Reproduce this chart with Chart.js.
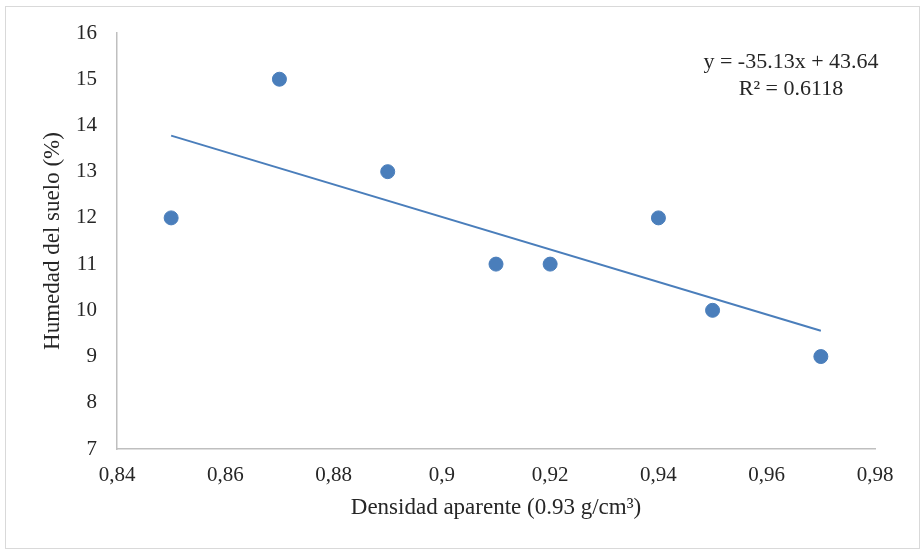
<!DOCTYPE html>
<html>
<head>
<meta charset="utf-8">
<script src="https://cdn.jsdelivr.net/npm/chart.js@4/dist/chart.umd.min.js"></script>
<style>
  body { margin: 0; background: #fff; }
  #frame { position: absolute; left: 5px; top: 6px; width: 913px; height: 541px; border: 1px solid #d9d9d9; }
  #chart { position: absolute; left: 0; top: 0; }
</style>
</head>
<body>
<div id="frame"></div>
<canvas id="chart" width="923" height="555"></canvas>
<script>
// soil data
const densidad = [0.85, 0.87, 0.89, 0.91, 0.92, 0.94, 0.95, 0.97];
const humedad = [12, 15, 13, 11, 11, 12, 10, 9];

// linear trend line ends
const trendX = [0.85, 0.97];
const trendY = [13.78, 9.56];

const ecuacion = ['y = -35.13x + 43.64', 'R² = 0.6118'];

const xTitle = 'Densidad aparente (0.93 g/cm³)';
const yTitle = 'Humedad del suelo (%)';

const blue = '#4a7ebb';
const textColor = '#262626';
const serif = "'Liberation Serif', 'Times New Roman', serif";

// draws the equation label in the top right
const equationLabel = {
    id: 'equationLabel',
    afterDatasetsDraw(chart) {
        const ctx = chart.ctx;
        ctx.save();
        ctx.font = '22px ' + serif;
        ctx.fillStyle = textColor;
        ctx.textAlign = 'center';
        ctx.textBaseline = 'alphabetic';
        ctx.fillText(ecuacion[0], 791, 68);
        ctx.fillText(ecuacion[1], 791, 95);
        ctx.restore();
    }
};

new Chart(document.getElementById('chart').getContext('2d'), {
    type: 'scatter',
    data: {
        datasets: [
            {
                label: 'Humedad',
                data: densidad.map((x, i) => ({ x: x, y: humedad[i] })),
                backgroundColor: blue,
                borderColor: blue,
                pointRadius: 7,
                pointHoverRadius: 7
            },
            {
                label: 'Tendencia',
                type: 'line',
                data: trendX.map((x, i) => ({ x: x, y: trendY[i] })),
                borderColor: blue,
                borderWidth: 2,
                pointRadius: 0,
                fill: false
            }
        ]
    },
    options: {
        responsive: false,
        animation: false,
        layout: { padding: { top: 33, right: 48, left: 0, bottom: 0 } },
        plugins: {
            legend: { display: false },
            tooltip: { enabled: false }
        },
        scales: {
            x: {
                type: 'linear',
                min: 0.84,
                max: 0.98,
                afterFit: (scale) => { scale.height = 106; },
                grid: { display: true, drawOnChartArea: false, drawTicks: false },
                border: { display: true, color: '#bfbfbf', width: 1.5 },
                ticks: {
                    stepSize: 0.02,
                    padding: 14,
                    color: textColor,
                    font: { family: serif, size: 21 },
                    callback: (v) => String(Number(v.toFixed(2))).replace('.', ',')
                },
                title: {
                    display: true,
                    text: xTitle,
                    color: textColor,
                    font: { family: serif, size: 23 },
                    padding: { top: 0, bottom: 33 }
                }
            },
            y: {
                min: 7,
                max: 16,
                afterFit: (scale) => { scale.width = 117; },
                grid: { display: true, drawOnChartArea: false, drawTicks: false },
                border: { display: true, color: '#bfbfbf', width: 1.5 },
                ticks: {
                    stepSize: 1,
                    padding: 20,
                    color: textColor,
                    font: { family: serif, size: 21 }
                },
                title: {
                    display: true,
                    text: yTitle,
                    color: textColor,
                    font: { family: serif, size: 23 },
                    padding: { top: 39, bottom: 0 }
                }
            }
        }
    },
    plugins: [equationLabel]
});
</script>
</body>
</html>
